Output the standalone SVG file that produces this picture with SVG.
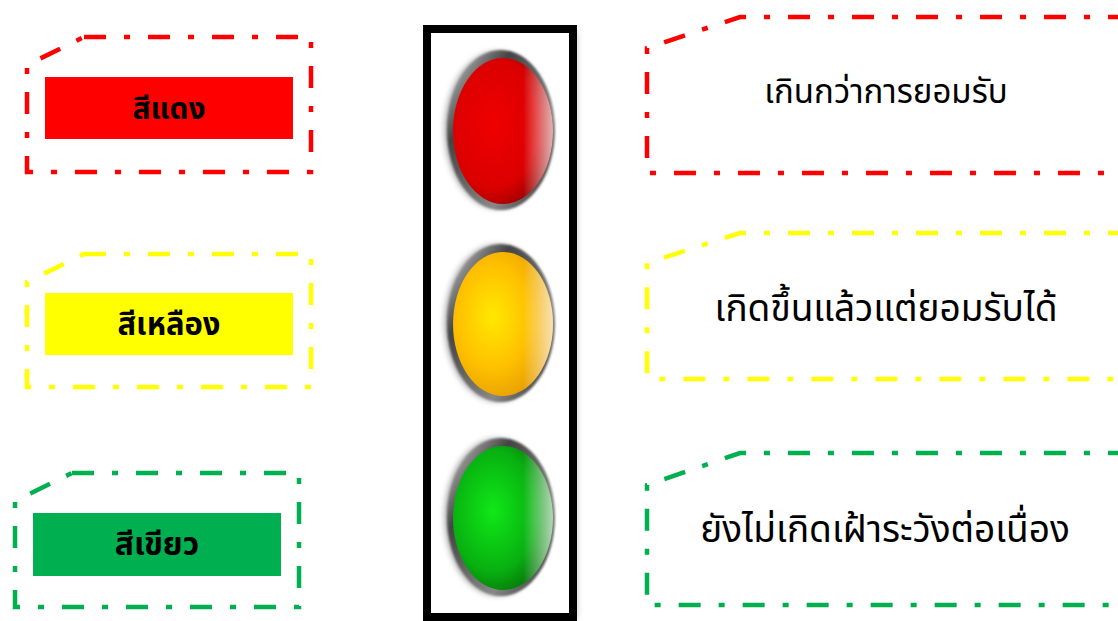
<svg xmlns="http://www.w3.org/2000/svg" width="1118" height="621" viewBox="0 0 1118 621">
<style>
.frame{fill:none;stroke-width:4.5;stroke-dasharray:22 18 6 18;stroke-linejoin:miter}
.red{stroke:#FF0000}
.yel{stroke:#FFFF00}
.grn{stroke:#00B050}
.lbl{font-family:"Noto Sans Thai","Noto Sans","DejaVu Sans",sans-serif;font-weight:bold;fill:#000;text-anchor:middle}
.desc{font-family:"Noto Sans Thai","Noto Sans","DejaVu Sans",sans-serif;fill:#000;text-anchor:middle}
</style>
<defs>
<filter id="blur" x="-50%" y="-50%" width="200%" height="200%"><feGaussianBlur stdDeviation="3"/></filter>
<filter id="blur2" x="-50%" y="-50%" width="200%" height="200%"><feGaussianBlur stdDeviation="1.2"/></filter>
<linearGradient id="ring" x1="0" y1="0" x2="1" y2="1">
<stop offset="0" stop-color="#d8d8d8"/><stop offset="0.3" stop-color="#444"/><stop offset="0.7" stop-color="#888"/><stop offset="1" stop-color="#222"/>
</linearGradient>
<radialGradient id="gRed" cx="0.4" cy="0.45" r="0.6">
<stop offset="0" stop-color="#F00000"/><stop offset="0.75" stop-color="#DA0000"/><stop offset="1" stop-color="#A00000"/>
</radialGradient>
<radialGradient id="gYel" cx="0.4" cy="0.45" r="0.6">
<stop offset="0" stop-color="#FFE800"/><stop offset="0.6" stop-color="#FFC000"/><stop offset="1" stop-color="#E8A000"/>
</radialGradient>
<radialGradient id="gGrn" cx="0.4" cy="0.45" r="0.6">
<stop offset="0" stop-color="#10E818"/><stop offset="0.7" stop-color="#08B010"/><stop offset="1" stop-color="#067A0A"/>
</radialGradient>
<linearGradient id="hl" x1="0" y1="0" x2="1" y2="0">
<stop offset="0.7" stop-color="#fff" stop-opacity="0"/><stop offset="1" stop-color="#fff" stop-opacity="0.7"/>
</linearGradient>
</defs>

<g id="node-red-label">
<path class="frame red" d="M84,37 L311,37 L311,172 L27,172 L27,65 Z"/>
<rect x="45" y="77" width="248" height="62" fill="#FF0000"/>
<text class="lbl" x="169" y="119" font-size="30">สีแดง</text>
</g>
<g id="node-yellow-label">
<path class="frame yel" d="M84,254 L311,254 L311,387 L27,387 L27,282 Z"/>
<rect x="45" y="293" width="248" height="62" fill="#FFFF00"/>
<text class="lbl" x="169" y="335" font-size="31">สีเหลือง</text>
</g>
<g id="node-green-label">
<path class="frame grn" d="M72,473 L299,473 L299,607 L15,607 L15,501 Z"/>
<rect x="33" y="513" width="248" height="63" fill="#00B050"/>
<text class="lbl" x="157" y="555" font-size="32">สีเขียว</text>
</g>

<g id="node-traffic-light">
<rect x="431" y="31" width="146" height="588" fill="#999" filter="url(#blur)" opacity="0.6"/>
<rect x="427" y="29" width="146" height="588" fill="#fff" stroke="#000" stroke-width="8"/>
<g id="light-red">
<ellipse cx="497" cy="130" rx="52" ry="78" fill="#777" filter="url(#blur)" opacity="0.7"/>
<ellipse cx="501" cy="130" rx="54" ry="80" fill="url(#ring)" filter="url(#blur2)"/>
<ellipse cx="503" cy="131" rx="50" ry="73" fill="url(#gRed)"/>
<ellipse cx="503" cy="131" rx="50" ry="73" fill="url(#hl)"/>
</g>
<g id="light-yellow">
<ellipse cx="497" cy="323" rx="52" ry="78" fill="#777" filter="url(#blur)" opacity="0.7"/>
<ellipse cx="501" cy="323" rx="54" ry="79" fill="url(#ring)" filter="url(#blur2)"/>
<ellipse cx="503" cy="324" rx="50" ry="72" fill="url(#gYel)"/>
<ellipse cx="503" cy="324" rx="50" ry="72" fill="url(#hl)"/>
</g>
<g id="light-green">
<ellipse cx="497" cy="517" rx="52" ry="78" fill="#777" filter="url(#blur)" opacity="0.7"/>
<ellipse cx="501" cy="517" rx="54" ry="79" fill="url(#ring)" filter="url(#blur2)"/>
<ellipse cx="503" cy="518" rx="50" ry="72" fill="url(#gGrn)"/>
<ellipse cx="503" cy="518" rx="50" ry="72" fill="url(#hl)"/>
</g>
</g>

<g id="node-red-desc">
<path class="frame red" d="M1130,17 L740,17 L647,48 L647,173 L1130,173"/>
<text class="desc" x="886" y="103" font-size="33">เกินกว่าการยอมรับ</text>
</g>
<g id="node-yellow-desc">
<path class="frame yel" d="M1130,233 L740,233 L647,263 L647,379 L1130,379"/>
<text class="desc" x="886" y="321" font-size="37">เกิดขึ้นแล้วแต่ยอมรับได้</text>
</g>
<g id="node-green-desc">
<path class="frame grn" d="M1130,453 L740,453 L647,485 L647,605 L1130,605"/>
<text class="desc" x="885" y="542" font-size="37">ยังไม่เกิดเฝ้าระวังต่อเนื่อง</text>
</g>

<g id="connectors"></g>
</svg>
